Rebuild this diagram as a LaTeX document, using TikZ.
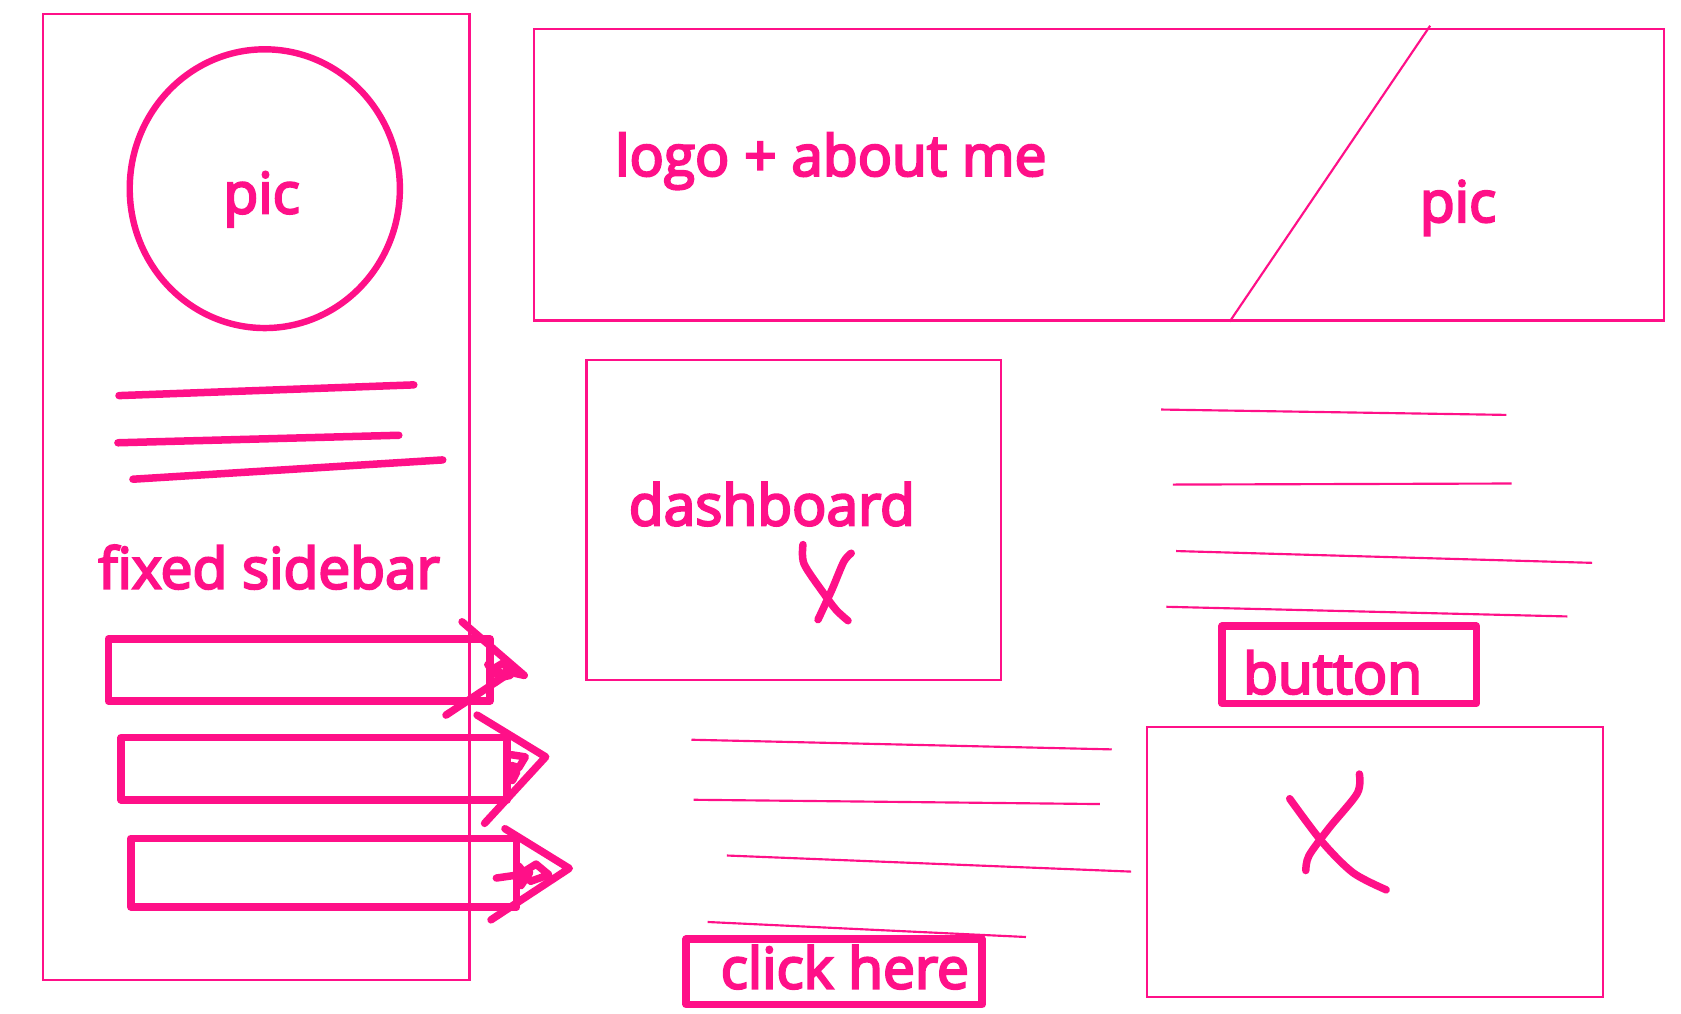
\documentclass[tikz,border=0pt]{standalone}
\usepackage{fontspec}
\setmainfont{Open Sans}[FakeBold=4]
\definecolor{ink}{RGB}{255,16,136}
\tikzset{
  x=1pt, y=-1pt,
  thin frame/.style={draw=ink, line width=2pt},
  thick frame/.style={draw=ink, line width=7pt, line join=round, line cap=round},
  stroke/.style={draw=ink, line width=7pt, line cap=round, line join=round},
  hair/.style={draw=ink, line width=2pt},
  label/.style={text=ink, font=\fontsize{53}{53}\selectfont, inner sep=0pt, anchor=base},
}
\begin{document}
\begin{tikzpicture}
\useasboundingbox (0,0) rectangle (1568,945);

% ---------- fixed sidebar ----------
\draw[thin frame] (40,13) rectangle (438,914);
\draw[draw=ink, line width=6pt] (247,176) ellipse [x radius=126pt, y radius=130pt];
\node[label] (sidepic) at (244,199) {pic};
\draw[stroke] (111,369) -- (386,359);
\draw[stroke] (110,413) -- (372,406);
\draw[stroke] (124,447) -- (413,429);
\node[label] (sidebar) at (251,549) {fixed sidebar};

% menu bars
\draw[thick frame] (101,596) rectangle (457,654);
\draw[thick frame] (113,688) rectangle (473,746);
\draw[thick frame] (122,782) rectangle (482,846);

% arrow heads on the menu bars
\draw[stroke] (431,580) -- (489,630) -- (480,628);
\draw[stroke] (416,667) -- (478,626);
\draw[stroke] (455,620) -- (466,632) -- (476,630) -- (470,618) -- (460,624) -- (468,628) -- (463,636);
\draw[stroke] (445,667) -- (509,706) -- (452,768);
\draw[stroke] (477,704) -- (490,706) -- (484,716) -- (477,714) -- (478,728) -- (482,720);
\draw[stroke] (471,773) -- (531,810) -- (458,858);
\draw[stroke] (463,819) -- (484,816) -- (500,806) -- (512,816) -- (495,822) -- (484,808) -- (486,826) -- (494,814);

% ---------- header ----------
\draw[thin frame] (498,27) rectangle (1552,299);
\draw[hair] (1334,24) -- (1147,300);
\node[label] (logo) at (775,164) {logo + about me};
\node[label] (headpic) at (1360,207) {pic};

% ---------- dashboard ----------
\draw[thin frame] (547,336) rectangle (934,634);
\node[label] (dash) at (720,490) {dashboard};
\draw[stroke] plot[smooth, tension=0.5] coordinates {(749,508) (750,526) (768,553) (780,569) (791,579)};
\draw[stroke] plot[smooth, tension=0.5] coordinates {(794,516) (787,524) (776,550) (763,578)};

% ---------- right text block ----------
\draw[hair] (1083,382) -- (1405,387);
\draw[hair] (1094,452) -- (1410,451);
\draw[hair] (1097,514) -- (1485,525);
\draw[hair] (1088,566) -- (1462,575);
\draw[thick frame] (1140,584) rectangle (1377,656);
\node[label] (button) at (1243,647) {button};

% ---------- image box ----------
\draw[thin frame] (1070,678) rectangle (1495,930);
\draw[stroke] plot[smooth, tension=0.5] coordinates {(1203,745) (1233,785) (1262,814) (1293,830)};
\draw[stroke] plot[smooth, tension=0.5] coordinates {(1268,722) (1266,740) (1240,772) (1221,798) (1218,812)};

% ---------- middle text block ----------
\draw[hair] (645,690) -- (1037,699);
\draw[hair] (647,746) -- (1026,750);
\draw[hair] (678,798) -- (1055,813);
\draw[hair] (660,860) -- (957,874);
\draw[thick frame] (640,876) rectangle (916,937);
\node[label] (click) at (788,922) {click here};
\end{tikzpicture}
\end{document}
